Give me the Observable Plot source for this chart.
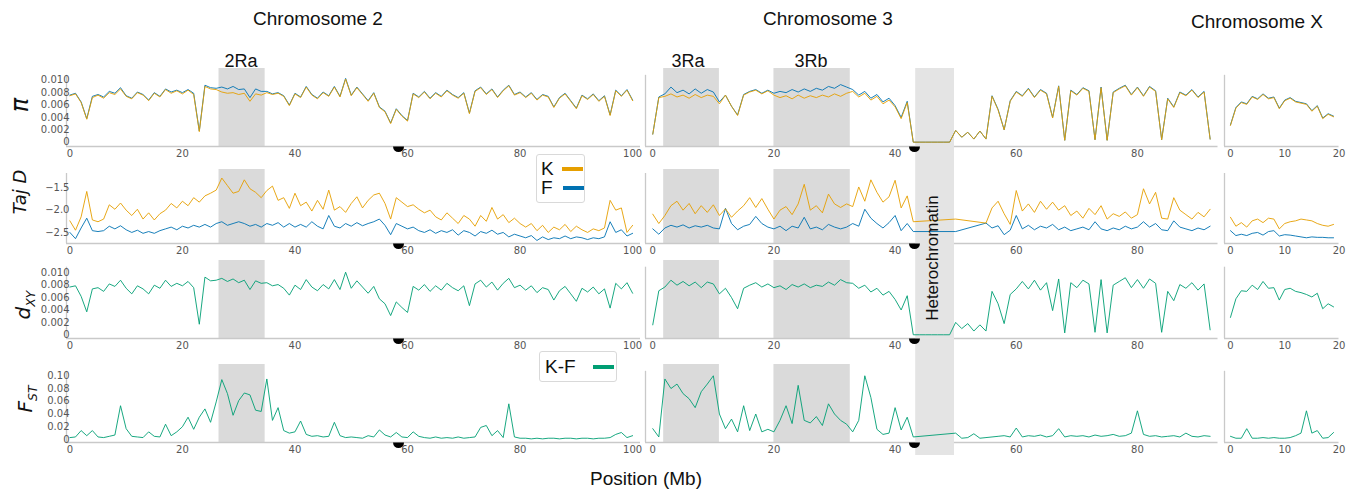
<!DOCTYPE html>
<html><head><meta charset="utf-8">
<script src="https://cdn.jsdelivr.net/npm/d3@7"></script>
<script src="https://cdn.jsdelivr.net/npm/@observablehq/plot@0.6"></script>
<style>
body{margin:0;background:#fff;}
#root{position:relative;width:1355px;height:491px;overflow:hidden;font-family:"Liberation Sans",Arial,sans-serif;color:#111;}
.t{position:absolute;transform:translate(-50%,-50%);white-space:nowrap;font-size:19px;}
.yl{position:absolute;transform:translate(-50%,-50%) rotate(-90deg);white-space:nowrap;font-family:"DejaVu Sans";font-style:italic;color:#111;}
.yl sub{font-size:0.62em;}
.legend{position:absolute;background:#fff;border:1.5px solid #d9d9d9;border-radius:3px;box-sizing:border-box;font-size:19px;}
.legend .row{position:absolute;display:flex;align-items:center;}
.sw{display:inline-block;height:4px;}
</style></head><body><div id="root"></div>
<script>
// ---------------- data ----------------
const chromosomes = ["Chromosome 2", "Chromosome 3", "Chromosome X"];
const inversions = [
  {chrom: "2", name: "2Ra", start: 26.5, end: 34.7},
  {chrom: "3", name: "3Ra", start: 1.8, end: 11.0},
  {chrom: "3", name: "3Rb", start: 20.0, end: 32.6}
];
const heterochromatin = {chrom: "3", start: 43.4, end: 49.8};
const centromeres = {"2": 58.4, "3": 43.2};
const populations = ["K", "F"];
const comparison = "K-F";

const chr2Pos = [0,1,2,3,4,5,6,7,8,9,10,11,12,13,14,15,16,17,18,19,20,21,22,23,24,25,26,27,28,29,30,31,32,33,34,35,36,37,38,39,40,41,42,43,44,45,46,47,48,49,50,51,52,53,54,55,56,57,58,59,60,61,62,63,64,65,66,67,68,69,70,71,72,73,74,75,76,77,78,79,80,81,82,83,84,85,86,87,88,89,90,91,92,93,94,95,96,97,98,99,100];
const chr2PiK = [.0075,.0078,.0064,.0037,.0072,.0076,.0071,.0080,.0077,.0086,.0074,.0070,.0080,.0076,.0067,.0079,.0073,.0085,.0079,.0083,.0078,.0084,.0077,.0017,.0090,.0086,.0085,.0081,.0079,.0080,.0077,.0079,.0066,.0078,.0076,.0080,.0077,.0079,.0074,.0059,.0078,.0072,.0089,.0076,.0070,.0080,.0074,.0089,.0073,.0102,.0075,.0088,.0077,.0066,.0079,.0056,.0049,.0030,.0053,.0042,.0034,.0078,.0072,.0081,.0070,.0079,.0073,.0083,.0076,.0071,.0079,.0046,.0082,.0088,.0077,.0085,.0072,.0083,.0091,.0076,.0080,.0072,.0079,.0068,.0076,.0073,.0056,.0071,.0078,.0066,.0054,.0075,.0069,.0077,.0066,.0074,.0043,.0083,.0074,.0084,.0067];
const chr2PiF = [.0076,.0079,.0065,.0038,.0074,.0077,.0073,.0082,.0079,.0088,.0075,.0071,.0081,.0077,.0068,.0080,.0074,.0086,.0081,.0084,.0080,.0085,.0079,.0018,.0092,.0088,.0087,.0089,.0086,.0090,.0085,.0086,.0072,.0086,.0082,.0082,.0078,.0080,.0075,.0060,.0079,.0073,.0090,.0077,.0071,.0081,.0075,.0090,.0074,.0103,.0076,.0089,.0078,.0067,.0080,.0057,.0050,.0031,.0054,.0043,.0035,.0079,.0073,.0082,.0071,.0080,.0074,.0084,.0077,.0072,.0080,.0047,.0083,.0089,.0078,.0086,.0073,.0084,.0092,.0077,.0081,.0073,.0080,.0069,.0077,.0074,.0057,.0072,.0079,.0067,.0055,.0076,.0070,.0078,.0067,.0075,.0044,.0084,.0075,.0085,.0068];
const chr2TajK = [-2.24,-2.45,-2.15,-1.58,-2.22,-2.26,-2.2,-1.88,-1.98,-1.84,-2.0,-2.12,-1.98,-2.2,-2.06,-2.22,-2.08,-2.0,-1.85,-1.95,-1.8,-1.9,-1.72,-1.82,-1.68,-1.62,-1.55,-1.28,-1.45,-1.62,-1.58,-1.32,-1.52,-1.6,-1.72,-1.56,-1.46,-1.78,-1.72,-1.96,-1.62,-1.9,-1.82,-2.02,-1.78,-1.98,-1.55,-2.0,-1.92,-2.05,-1.85,-1.7,-1.95,-1.78,-1.66,-1.62,-1.85,-2.2,-1.72,-1.82,-1.92,-1.88,-1.98,-2.06,-2.0,-2.15,-2.22,-2.06,-2.18,-2.3,-2.12,-2.2,-2.36,-2.12,-2.25,-1.94,-2.2,-2.1,-2.28,-2.18,-2.3,-2.38,-2.3,-2.46,-2.34,-2.5,-2.38,-2.44,-2.32,-2.48,-2.36,-2.44,-2.5,-2.42,-2.46,-2.4,-1.78,-2.0,-1.95,-2.5,-2.34];
const chr2TajF = [-2.5,-2.64,-2.4,-2.18,-2.46,-2.48,-2.46,-2.36,-2.42,-2.35,-2.44,-2.5,-2.45,-2.52,-2.48,-2.52,-2.46,-2.42,-2.38,-2.44,-2.36,-2.4,-2.34,-2.38,-2.32,-2.38,-2.3,-2.26,-2.34,-2.3,-2.26,-2.3,-2.36,-2.32,-2.38,-2.3,-2.34,-2.28,-2.38,-2.3,-2.38,-2.32,-2.38,-2.26,-2.36,-2.42,-2.12,-2.36,-2.4,-2.3,-2.36,-2.28,-2.35,-2.3,-2.26,-2.2,-2.34,-2.55,-2.3,-2.36,-2.42,-2.38,-2.46,-2.5,-2.44,-2.52,-2.46,-2.5,-2.44,-2.56,-2.46,-2.5,-2.58,-2.48,-2.52,-2.45,-2.54,-2.5,-2.6,-2.54,-2.58,-2.62,-2.57,-2.68,-2.6,-2.66,-2.62,-2.64,-2.58,-2.64,-2.6,-2.62,-2.66,-2.62,-2.64,-2.6,-2.26,-2.5,-2.44,-2.58,-2.52];
const chr2Dxy = [.0077,.0079,.0062,.0037,.0074,.0076,.0070,.0082,.0078,.0088,.0075,.0066,.0079,.0074,.0066,.0080,.0075,.0088,.0078,.0083,.0079,.0086,.0076,.0017,.0093,.0087,.0088,.0091,.0086,.0090,.0084,.0088,.0073,.0087,.0083,.0084,.0079,.0081,.0075,.0064,.0080,.0073,.0089,.0077,.0071,.0081,.0074,.0089,.0073,.0101,.0075,.0087,.0077,.0067,.0078,.0058,.0050,.0031,.0053,.0044,.0036,.0078,.0072,.0081,.0070,.0079,.0072,.0083,.0076,.0071,.0079,.0047,.0082,.0088,.0077,.0085,.0072,.0083,.0091,.0076,.0080,.0072,.0079,.0068,.0076,.0073,.0056,.0071,.0078,.0066,.0054,.0075,.0069,.0077,.0066,.0074,.0043,.0083,.0074,.0084,.0067];
const chr2Fst = [.003,.004,.014,.006,.014,.004,.003,.005,.007,.053,.017,.005,.004,.003,.012,.005,.004,.024,.006,.012,.020,.035,.016,.035,.048,.027,.059,.094,.072,.038,.061,.073,.070,.046,.044,.095,.030,.050,.014,.010,.012,.029,.008,.005,.006,.004,.005,.027,.006,.003,.004,.003,.002,.006,.004,.015,.007,.004,.011,.004,.003,.012,.005,.003,.002,.004,.002,.003,.002,.004,.002,.003,.004,.019,.022,.006,.014,.003,.056,.004,.002,.002,.001,.002,.001,.002,.002,.001,.002,.002,.001,.002,.002,.001,.002,.002,.003,.008,.011,.003,.006];

const chr3Pos = [0,1,2,3,4,5,6,7,8,9,10,11,12,13,14,15,16,17,18,19,20,21,22,23,24,25,26,27,28,29,30,31,32,33,34,35,36,37,38,39,40,41,42,43,44,45,46,47,48,49,50,51,52,53,54,55,56,57,58,59,60,61,62,63,64,65,66,67,68,69,70,71,72,73,74,75,76,77,78,79,80,81,82,83,84,85,86,87,88,89,90,91,92];
const chr3PiK = [.0013,.0072,.0074,.0078,.0073,.0076,.0071,.0077,.0072,.0076,.0074,.0062,.0076,.0058,.0043,.0076,.0081,.0084,.0078,.0083,.0076,.0072,.0075,.0070,.0076,.0071,.0075,.0072,.0076,.0073,.0078,.0074,.0079,.0082,.0073,.0079,.0068,.0074,.0062,.0068,.0057,.0038,.0064,0,0,0,0,0,0,0,.0019,.0008,.0016,.0005,.0018,.0005,.0074,.0052,.0020,.0066,.0081,.0074,.0086,.0072,.0084,.0078,.0039,.0090,.0003,.0083,.0076,.0087,.0082,.0004,.0088,.0003,.0080,.0086,.0091,.0076,.0088,.0074,.0089,.0082,.0004,.0070,.0056,.0080,.0075,.0084,.0072,.0081,.0005];
const chr3PiF = [.0013,.0073,.0078,.0089,.0080,.0084,.0078,.0086,.0079,.0085,.0081,.0065,.0076,.0058,.0044,.0077,.0082,.0085,.0079,.0084,.0079,.0082,.0080,.0085,.0081,.0086,.0082,.0087,.0084,.0090,.0087,.0093,.0089,.0085,.0076,.0082,.0071,.0077,.0065,.0071,.0059,.0040,.0066,0,0,0,0,0,0,0,.0019,.0008,.0016,.0005,.0018,.0005,.0075,.0053,.0020,.0067,.0082,.0075,.0087,.0073,.0085,.0079,.0040,.0091,.0003,.0084,.0077,.0088,.0083,.0004,.0089,.0003,.0081,.0087,.0092,.0077,.0089,.0075,.0090,.0083,.0004,.0071,.0057,.0081,.0076,.0085,.0073,.0082,.0005];
const chr3TajK = [-2.09,-2.3,-2.12,-1.9,-1.8,-2.0,-1.85,-2.08,-1.9,-2.05,-1.88,-2.12,-1.97,-2.16,-2.02,-1.9,-1.72,-1.94,-1.74,-1.98,-2.2,-2.0,-1.92,-2.1,-1.86,-1.42,-2.0,-1.9,-2.06,-1.64,-1.86,-1.94,-1.86,-1.92,-1.48,-1.8,-1.32,-1.6,-1.82,-1.7,-1.33,-1.95,-1.68,-2.26,null,null,null,null,null,null,-2.2,null,null,null,null,-2.29,-1.95,-1.8,-2.08,-2.32,-1.56,-2.02,-1.86,-2.05,-1.8,-1.98,-1.82,-2.0,-1.9,-2.12,-2.02,-2.18,-1.96,-2.1,-1.9,-2.2,-2.08,-2.14,-2.04,-2.18,-2.1,-1.52,-1.86,-1.6,-2.18,-2.2,-1.72,-2.0,-2.1,-2.2,-2.05,-2.15,-1.98];
const chr3TajF = [-2.42,-2.54,-2.4,-2.34,-2.38,-2.33,-2.4,-2.35,-2.38,-2.34,-2.4,-2.42,-1.96,-2.3,-2.44,-2.36,-2.32,-2.14,-2.3,-2.38,-2.42,-2.36,-2.46,-2.36,-2.4,-2.16,-2.42,-2.38,-2.44,-2.32,-2.38,-2.42,-2.38,-2.3,-2.36,-1.98,-2.18,-2.3,-2.4,-2.28,-2.12,-2.46,-2.3,-2.48,null,null,null,null,null,null,-2.48,null,null,null,null,-2.29,-2.4,-2.35,-2.55,-2.45,-2.12,-2.42,-2.34,-2.44,-2.36,-2.4,-2.32,-2.44,-2.38,-2.46,-2.42,-2.38,-2.44,-2.26,-2.42,-2.46,-2.4,-2.44,-2.36,-2.42,-2.38,-2.26,-2.38,-2.3,-2.44,-2.46,-2.24,-2.38,-2.42,-2.46,-2.4,-2.44,-2.36];
const chr3Dxy = [.0016,.0071,.0077,.0088,.0080,.0086,.0079,.0085,.0076,.0085,.0082,.0066,.0075,.0060,.0042,.0075,.0080,.0084,.0077,.0082,.0076,.0079,.0073,.0081,.0077,.0082,.0076,.0080,.0078,.0085,.0080,.0089,.0084,.0083,.0075,.0080,.0069,.0075,.0064,.0070,.0057,.0040,.0063,0,0,0,0,0,0,0,.0020,.0010,.0018,.0006,.0016,.0006,.0070,.0050,.0018,.0065,.0074,.0086,.0074,.0088,.0072,.0084,.0039,.0090,.0003,.0084,.0076,.0088,.0082,.0004,.0089,.0003,.0080,.0086,.0092,.0076,.0089,.0075,.0090,.0083,.0004,.0070,.0055,.0081,.0075,.0084,.0072,.0082,.0008];
const chr3Fst = [.017,.004,.095,.080,.087,.072,.064,.050,.075,.087,.100,.040,.017,.032,.012,.053,.014,.040,.012,.016,.012,.030,.053,.025,.085,.030,.026,.036,.022,.056,.040,.030,.024,.012,.030,.100,.066,.016,.008,.010,.050,.015,.035,.004,null,null,null,null,null,null,.010,.002,.003,.009,.002,.003,.004,.005,.006,.004,.018,.004,.006,.005,.007,.004,.006,.017,.004,.006,.005,.006,.004,.007,.005,.006,.008,.005,.006,.010,.045,.008,.005,.006,.004,.005,.006,.004,.010,.005,.004,.006,.005];

const chrXPos = [0,1,2,3,4,5,6,7,8,9,10,11,12,13,14,15,16,17,18,19];
const chrXPiK = [.0027,.0055,.0064,.0061,.0073,.0069,.0077,.0070,.0072,.0054,.0067,.0071,.0065,.0063,.0061,.0050,.0058,.0038,.0045,.0041];
const chrXPiF = [.0028,.0056,.0065,.0062,.0074,.0070,.0078,.0071,.0073,.0055,.0068,.0072,.0066,.0064,.0062,.0051,.0059,.0039,.0046,.0042];
const chrXTajK = [-2.16,-2.36,-2.28,-2.38,-2.24,-2.2,-2.28,-2.18,-2.2,-2.42,-2.3,-2.26,-2.24,-2.2,-2.22,-2.24,-2.3,-2.34,-2.36,-2.32];
const chrXTajF = [-2.46,-2.57,-2.54,-2.57,-2.52,-2.5,-2.56,-2.48,-2.46,-2.58,-2.55,-2.56,-2.58,-2.6,-2.62,-2.6,-2.61,-2.61,-2.62,-2.62];
const chrXDxy = [.0028,.0058,.0071,.0070,.0080,.0073,.0086,.0075,.0076,.0056,.0073,.0075,.0070,.0068,.0065,.0061,.0067,.0042,.0050,.0045];
const chrXFst = [.005,.002,.002,.017,.002,.002,.003,.002,.003,.002,.002,.003,.006,.010,.045,.010,.014,.002,.003,.011];

// --------------- layout / styles ---------------
const COLORS = {K: "#E69F00", F: "#0072B2", KF: "#009E73"};
const root = document.getElementById("root");
const ML = 45, MR = 10, MB = 18;

function table(pos, s) {
  return pos.map((p, i) => ({pos: p, piK: s.piK[i], piF: s.piF[i], tajK: s.tajK[i], tajF: s.tajF[i], dxy: s.dxy[i], fst: s.fst[i]}));
}
const cols = [
  {key: "2", left: 66, right: 640, lo: -0.6, hi: 101.4, ticks: [0,20,40,60,80,100],
   data: table(chr2Pos, {piK: chr2PiK, piF: chr2PiF, tajK: chr2TajK, tajF: chr2TajF, dxy: chr2Dxy, fst: chr2Fst})},
  {key: "3", left: 644.5, right: 1217, lo: -1.2, hi: 93.3, ticks: [0,20,40,60,80],
   data: table(chr3Pos, {piK: chr3PiK, piF: chr3PiF, tajK: chr3TajK, tajF: chr3TajF, dxy: chr3Dxy, fst: chr3Fst})},
  {key: "X", left: 1223.5, right: 1338, lo: -1.1, hi: 20, ticks: [0,10,20],
   data: table(chrXPos, {piK: chrXPiK, piF: chrXPiF, tajK: chrXTajK, tajF: chrXTajF, dxy: chrXDxy, fst: chrXFst})}
];
const f3 = d => d === 0 ? "0" : d.toFixed(3);
const rows = [
  {top: 68, bottom: 146, lo: -0.0007, hi: 0.0119, spine: 0.0108, ticks: [0,.002,.004,.006,.008,.01], fmt: f3, series: [["piF", COLORS.F], ["piK", COLORS.K]]},
  {top: 169, bottom: 243, lo: -2.748, hi: -1.088, spine: -1.178, ticks: [-2.5,-2,-1.5], fmt: d => "\u2212" + Math.abs(d).toFixed(1), series: [["tajF", COLORS.F], ["tajK", COLORS.K]]},
  {top: 260, bottom: 338, lo: -0.0006, hi: 0.01198, spine: 0.0109, ticks: [0,.002,.004,.006,.008,.01], fmt: f3, series: [["dxy", COLORS.KF]]},
  {top: 364, bottom: 442, lo: -0.0047, hi: 0.1177, spine: 0.107, ticks: [0,.02,.04,.06,.08,.1], fmt: d => d === 0 ? "0" : d.toFixed(2), series: [["fst", COLORS.KF]]}
];

const halfDisc = {draw(ctx, size) { const r = Math.sqrt(size / Math.PI); ctx.moveTo(r, 0); ctx.arc(0, 0, r, 0, Math.PI); ctx.closePath(); }};
const AXC = "#c9c9c9";

function place(svg, left, top) {
  svg.style.position = "absolute"; svg.style.left = left + "px"; svg.style.top = top + "px";
  root.appendChild(svg);
}

// heterochromatin backdrop across all rows of chromosome 3
{
  const c = cols[1];
  const hTop = 68, hBottom = 455;
  const svg = Plot.plot({
    width: c.right - c.left + ML + MR, height: hBottom - hTop, marginLeft: ML, marginRight: MR, marginTop: 0, marginBottom: 0,
    x: {domain: [c.lo, c.hi], axis: null}, y: {domain: [0, 1], axis: null},
    style: {background: "transparent", overflow: "visible"},
    marks: [Plot.rect([heterochromatin], {x1: "start", x2: "end", y1: () => 0, y2: () => 1, fill: "#e4e4e4"})]
  });
  place(svg, c.left - ML, hTop);
}

cols.forEach((c, ci) => {
  rows.forEach((r, ri) => {
    const bands = inversions.filter(d => d.chrom === c.key);
    const axisSegs = c.key === "3" ? [{a: c.lo, b: heterochromatin.start}, {a: heterochromatin.end, b: c.hi}] : [{a: c.lo, b: c.hi}];
    const marks = [
      Plot.rect(bands, {x1: "start", x2: "end", y1: () => r.lo, y2: () => r.hi, fill: "#dadada"}),
      Plot.ruleY(axisSegs, {y: () => r.lo, x1: "a", x2: "b", stroke: AXC, strokeWidth: 1.3}),
      Plot.ruleX([c.lo], {x: d => d, y1: () => r.lo, y2: () => r.spine, stroke: AXC, strokeWidth: 1.3}),
      Plot.axisX(c.ticks, {tickSize: 0, tickPadding: 3, fill: "#555", fontSize: 10, label: null, tickFormat: d => String(d)})
    ];
    if (ci === 0) marks.push(Plot.axisY(r.ticks, {tickSize: 0, tickPadding: -3, fill: "#555", fontSize: 10, label: null, tickFormat: r.fmt}));
    r.series.forEach(([k, col]) => {
      marks.push(Plot.line(c.data.filter(d => d[k] != null), {x: "pos", y: k, stroke: col, strokeWidth: 1, strokeOpacity: 0.9}));
    });
    if (centromeres[c.key] != null) {
      marks.push(Plot.dot([centromeres[c.key]], {x: d => d, y: () => r.lo, r: 5.5, fill: "black", stroke: "none", symbol: halfDisc}));
    }
    const svg = Plot.plot({
      width: c.right - c.left + ML + MR, height: r.bottom - r.top + MB,
      marginLeft: ML, marginRight: MR, marginTop: 0, marginBottom: MB,
      x: {domain: [c.lo, c.hi], label: null},
      y: ci === 0 ? {domain: [r.lo, r.hi], label: null} : {domain: [r.lo, r.hi], axis: null},
      style: {background: "transparent", overflow: "visible", fontFamily: "DejaVu Sans", fontSize: "10px"},
      marks
    });
    place(svg, c.left - ML, r.top);
  });
});

// texts
function text(html, x, y, cls, extra) {
  const d = document.createElement("div");
  d.className = cls; d.innerHTML = html; d.style.left = x + "px"; d.style.top = y + "px";
  if (extra) Object.assign(d.style, extra);
  root.appendChild(d);
  return d;
}
text(chromosomes[0], 318, 19, "t");
text(chromosomes[1], 828, 19, "t");
text(chromosomes[2], 1257, 22, "t");
text(inversions[0].name, 241, 61, "t", {fontSize: "18px"});
text(inversions[1].name, 688, 61, "t", {fontSize: "18px"});
text(inversions[2].name, 811, 61, "t", {fontSize: "18px"});
text("Position (Mb)", 646, 479, "t");
text("Heterochromatin", 933, 258, "t", {transform: "translate(-50%,-50%) rotate(-90deg)", fontSize: "17px"});

text("\u03C0", 20, 105, "yl", {fontSize: "24px"});
text("Taj D", 19, 192, "yl", {fontSize: "18px"});
text("d<sub>XY</sub>", 24, 305, "yl", {fontSize: "20px"});
text("F<sub>ST</sub>", 26, 399, "yl", {fontSize: "20px"});

// legends
function legend(x, y, w, h, items) {
  const box = document.createElement("div");
  box.className = "legend";
  Object.assign(box.style, {left: x + "px", top: y + "px", width: w + "px", height: h + "px"});
  items.forEach(it => {
    const r = document.createElement("div");
    r.className = "row";
    Object.assign(r.style, {left: it.tx + "px", top: it.ty + "px", height: "20px"});
    r.innerHTML = `<span>${it.label}</span><span class="sw" style="background:${it.color};width:${it.sw}px;margin-left:${it.gap}px"></span>`;
    box.appendChild(r);
  });
  root.appendChild(box);
}
legend(536, 154, 49, 49, [
  {label: populations[0], color: COLORS.K, tx: 4, ty: 4, sw: 21, gap: 8},
  {label: populations[1], color: COLORS.F, tx: 4, ty: 23, sw: 21, gap: 10}
]);
legend(539, 351, 78, 31, [
  {label: comparison, color: COLORS.KF, tx: 5, ty: 5, sw: 21, gap: 17}
]);
</script></body></html>
